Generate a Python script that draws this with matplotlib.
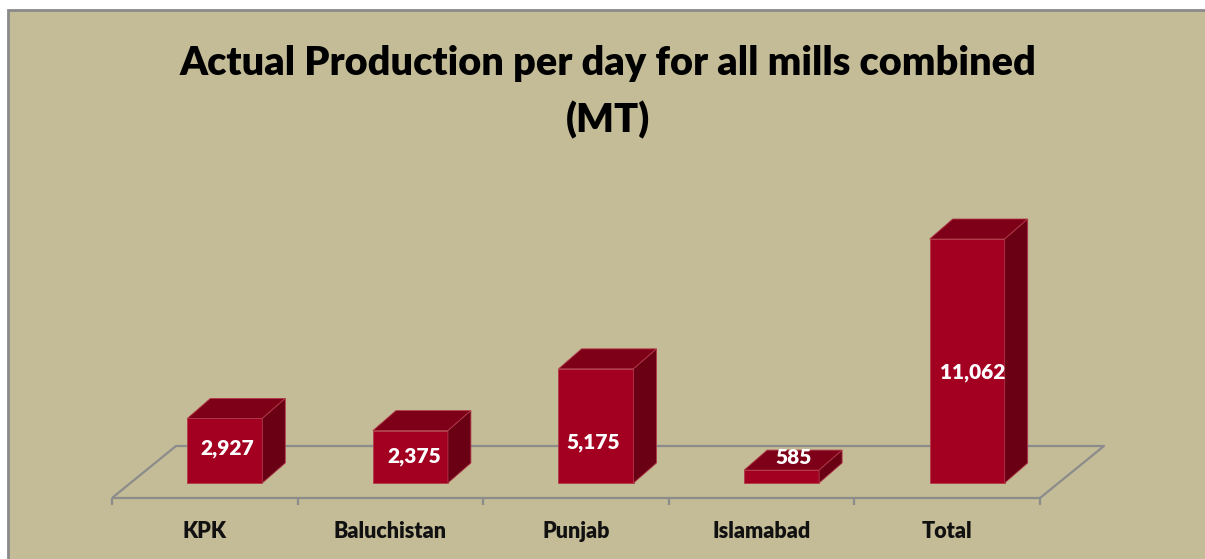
import matplotlib
matplotlib.use("Agg")
import matplotlib.pyplot as plt
from matplotlib.patches import Polygon, Rectangle

# data
categories = ["KPK", "Baluchistan", "Punjab", "Islamabad", "Total"]
production = [2927, 2375, 5175, 585, 11062]
value_labels = ["2,927", "2,375", "5,175", "585", "11,062"]
title = "Actual Production per day for all mills combined\n(MT)"

# layout (pixels of a 1205x559 canvas)
W, H = 1205, 559
X0_PX = 112          # left front corner of the floor
CAT_PX = 185.6       # width of one category
BASE_PX = 483        # where the bar fronts stand
PX_PER_UNIT = 244 / 11062
FLOOR_FRONT_PX = 498
FLOOR_DEPTH = (64, 52)
BAR_SHIFT_PX = 20     # bar centre right of category centre
BAR_W_PX = 75
BAR_DEPTH = (23, 20)
LABEL_UP_PX = [35, 27, 40, 26, 111]
LABEL_SHIFT_PX = [2, 4, -3, 12, 5]

FRONT = "#A30021"
TOP = "#7E0018"
SIDE = "#690014"
BG = "#C4BC96"
GRID = "#8C8C8C"

fig = plt.figure(figsize=(W / 100, H / 100), dpi=100, facecolor="white")
fig.add_artist(Rectangle((8 / W, -0.05), 1.1, 1 - 10 / H + 0.05,
                         transform=fig.transFigure, facecolor=BG,
                         edgecolor="#8A8A8A", linewidth=2, zorder=-5))
ax = fig.add_axes([0, 0, 1, 1])
ax.set_facecolor("none")
ax.axis("off")

# map pixels onto category / value units
ax.set_xlim(-X0_PX / CAT_PX, (W - X0_PX) / CAT_PX)
ax.set_ylim(-(H - BASE_PX) / PX_PER_UNIT, BASE_PX / PX_PER_UNIT)


def px_x(p):
    return p / CAT_PX


def px_y(p):
    return p / PX_PER_UNIT


n = len(categories)
fy = -px_y(FLOOR_FRONT_PX - BASE_PX)
ddx, ddy = px_x(FLOOR_DEPTH[0]), px_y(FLOOR_DEPTH[1])
line_kw = dict(color=GRID, linewidth=1.6, solid_capstyle="butt", zorder=1)

# floor
ax.plot([0, n], [fy, fy], **line_kw)
ax.plot([0, ddx, n + ddx, n], [fy, fy + ddy, fy + ddy, fy], **line_kw)
for i in range(n + 1):
    ax.plot([i, i], [fy, fy - px_y(7)], **line_kw)

# bars
bdx, bdy = px_x(BAR_DEPTH[0]), px_y(BAR_DEPTH[1])
bw = px_x(BAR_W_PX)
for i, v in enumerate(production):
    x0 = i + 0.5 + px_x(BAR_SHIFT_PX) - bw / 2
    x1 = x0 + bw
    ec = dict(edgecolor="#B23A4A", linewidth=0.6, zorder=3)
    ax.add_patch(Polygon([(x0, 0), (x1, 0), (x1, v), (x0, v)], facecolor=FRONT, **ec))
    ax.add_patch(Polygon([(x0, v), (x1, v), (x1 + bdx, v + bdy), (x0 + bdx, v + bdy)],
                         facecolor=TOP, **ec))
    ax.add_patch(Polygon([(x1, 0), (x1 + bdx, bdy), (x1 + bdx, v + bdy), (x1, v)],
                         facecolor=SIDE, **ec))
    lx = i + 0.5 + px_x(BAR_SHIFT_PX + LABEL_SHIFT_PX[i])
    ax.text(lx, px_y(LABEL_UP_PX[i]), value_labels[i], color="white",
            fontsize=15, fontweight="heavy", family="Lato",
            ha="center", va="center", zorder=5)
    ax.text(i + 0.5, -px_y(531 - BASE_PX), categories[i], color="#111111",
            fontsize=15.5, fontweight="heavy", family="Lato",
            ha="center", va="center", zorder=5)

fig.text(608 / W, 1 - 92 / H, title, ha="center", va="center",
         fontsize=28.5, fontweight="heavy", family="Lato", linespacing=1.6,
         color="black")

fig.savefig("out.png", dpi=100, facecolor="white")
